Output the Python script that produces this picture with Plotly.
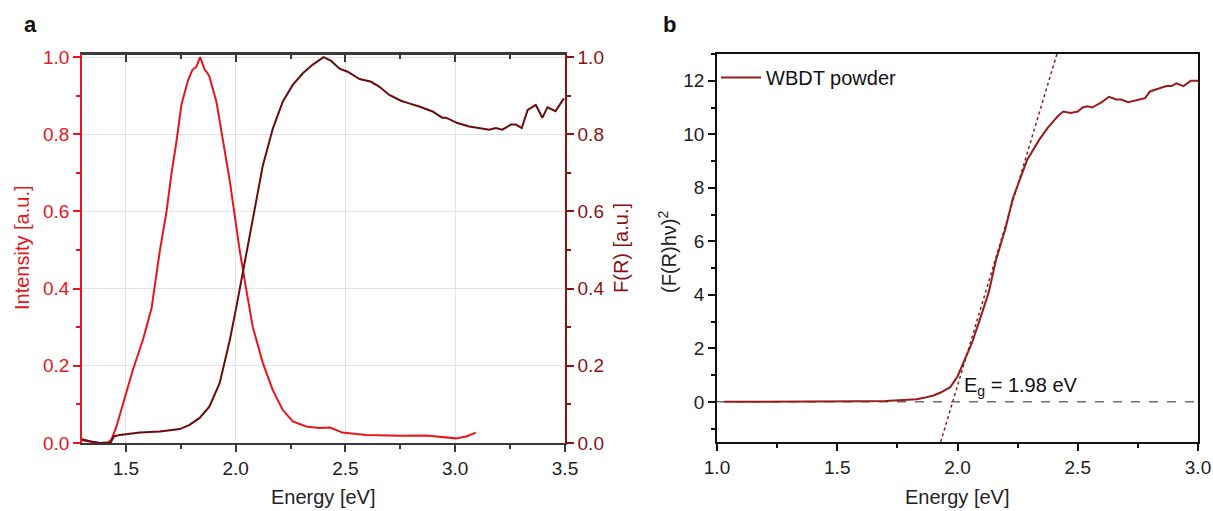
import plotly.graph_objects as go

W, H = 1213, 511

# ---------------- Panel a data ----------------
pl_energy = [1.30, 1.34, 1.38, 1.42, 1.435, 1.457, 1.495, 1.532, 1.579, 1.617, 1.655, 1.685,
             1.708, 1.73, 1.753, 1.783, 1.803, 1.821, 1.838, 1.859, 1.87, 1.88, 1.912, 1.942,
             1.973, 2.003, 2.018, 2.049, 2.078, 2.124, 2.169, 2.214, 2.26, 2.321, 2.38, 2.43,
             2.486, 2.594, 2.745, 2.867, 2.94, 3.003, 3.05, 3.094]
pl_intensity = [0.007, 0.003, 0.0, 0.002, 0.01, 0.043, 0.12, 0.19, 0.27, 0.35, 0.50, 0.60,
                0.70, 0.78, 0.877, 0.94, 0.967, 0.975, 1.0, 0.967, 0.96, 0.95, 0.885, 0.78,
                0.68, 0.56, 0.50, 0.395, 0.30, 0.207, 0.137, 0.086, 0.056, 0.043, 0.039, 0.040,
                0.027, 0.021, 0.019, 0.0195, 0.015, 0.012, 0.017, 0.027]

fr_energy = [1.30, 1.34, 1.38, 1.43, 1.445, 1.473, 1.564, 1.655, 1.745, 1.79, 1.836, 1.88,
             1.927, 1.973, 2.003, 2.034, 2.056, 2.078, 2.10, 2.124, 2.17, 2.215, 2.26, 2.306,
             2.35, 2.382, 2.40, 2.435, 2.473, 2.51, 2.564, 2.617, 2.655, 2.70, 2.753, 2.79,
             2.836, 2.897, 2.94, 2.958, 3.01, 3.064, 3.124, 3.155, 3.185, 3.215, 3.253, 3.276,
             3.303, 3.33, 3.367, 3.397, 3.42, 3.457, 3.495]
fr_value = [0.01, 0.004, 0.0, 0.0, 0.017, 0.021, 0.027, 0.03, 0.036, 0.047, 0.065, 0.094,
            0.155, 0.266, 0.352, 0.447, 0.51, 0.585, 0.655, 0.72, 0.816, 0.885, 0.928, 0.958,
            0.98, 0.992, 1.0, 0.99, 0.97, 0.962, 0.943, 0.936, 0.923, 0.902, 0.887, 0.88,
            0.872, 0.859, 0.843, 0.843, 0.829, 0.82, 0.816, 0.812, 0.816, 0.812, 0.825, 0.825,
            0.816, 0.863, 0.876, 0.843, 0.87, 0.86, 0.893]

# ---------------- Panel b data ----------------
b_energy = [1.03, 1.2, 1.4, 1.6, 1.7, 1.76, 1.8, 1.83, 1.86, 1.9, 1.93, 1.97, 2.0, 2.025,
            2.06, 2.09, 2.13, 2.16, 2.2, 2.23, 2.26, 2.29, 2.34, 2.375, 2.40, 2.42, 2.44,
            2.47, 2.50, 2.52, 2.54, 2.56, 2.60, 2.63, 2.66, 2.68, 2.71, 2.75, 2.78, 2.80,
            2.83, 2.85, 2.87, 2.89, 2.91, 2.94, 2.97, 3.0]
b_value = [0.0, 0.0, 0.01, 0.02, 0.03, 0.05, 0.07, 0.1, 0.15, 0.24, 0.35, 0.55, 0.95, 1.5,
           2.2, 3.0, 4.1, 5.3, 6.5, 7.6, 8.3, 9.05, 9.8, 10.24, 10.5, 10.7, 10.85,
           10.8, 10.85, 11.0, 11.05, 11.0, 11.2, 11.4, 11.3, 11.3, 11.2, 11.3, 11.35, 11.6,
           11.7, 11.75, 11.8, 11.8, 11.9, 11.8, 12.0, 12.0]
band_gap = 1.98          # eV, from the linear fit
fit_slope = 30.0         # slope of the tangent line
fit_y = [-1.5, 13.0]     # y extent of the tangent line
zero_x = [1.0, 3.0]
zero_y = [0.0, 0.0]
fit_x = [band_gap + yy / fit_slope for yy in fit_y]

RED = "#e8151c"
DARKRED = "#8b1212"
FRLINE = "#6b0c0c"
BLINE = "#981b1b"
GRAY = "#3a3a3a"
FONT = "Arial, Liberation Sans, sans-serif"
TF = 19   # tick font
LF = 20   # label font


def px(x):
    return x / W


def py(y):
    return 1 - y / H


fig = go.Figure()
# helper trace so the top (inward-tick) axis of panel a is drawn
fig.add_trace(go.Scatter(x=pl_energy, y=pl_intensity, mode="lines",
                         line=dict(color="rgba(0,0,0,0)", width=0), xaxis="x3", yaxis="y",
                         showlegend=False, hoverinfo="skip", name="top axis"))
fig.add_trace(go.Scatter(x=pl_energy, y=pl_intensity, mode="lines",
                         line=dict(color=RED, width=2), xaxis="x", yaxis="y",
                         showlegend=False, name="Intensity"))
fig.add_trace(go.Scatter(x=fr_energy, y=fr_value, mode="lines",
                         line=dict(color=FRLINE, width=2), xaxis="x", yaxis="y2",
                         showlegend=False, name="F(R)"))
fig.add_trace(go.Scatter(x=zero_x, y=zero_y, mode="lines",
                         line=dict(color="#6e6e6e", width=1.5, dash="dash"),
                         xaxis="x2", yaxis="y3", showlegend=False, name="zero"))
fig.add_trace(go.Scatter(x=fit_x, y=fit_y, mode="lines",
                         line=dict(color="#8b1a2e", width=1.5, dash="dot"),
                         xaxis="x2", yaxis="y3", showlegend=False, name="fit"))
fig.add_trace(go.Scatter(x=b_energy, y=b_value, mode="lines",
                         line=dict(color=BLINE, width=2), xaxis="x2", yaxis="y3",
                         showlegend=True, name="WBDT powder"))

a_dom_x = [px(82), px(565)]
a_dom_y = [py(443), py(54)]
b_dom_x = [px(717), px(1198)]
b_dom_y = [py(442), py(54)]

tickfont_dark = dict(family=FONT, size=TF, color="#222222")

fig.update_layout(
    width=W, height=H,
    margin=dict(l=0, r=0, t=0, b=0, autoexpand=False),
    paper_bgcolor="white", plot_bgcolor="white",
    font=dict(family=FONT, size=TF, color="#222222"),
    xaxis=dict(domain=a_dom_x, anchor="y", range=[1.3, 3.5], dtick=0.5, tick0=0,
               tickformat=".1f", ticks="outside", ticklen=7, tickwidth=1.5, tickcolor=GRAY,
               showline=True, linecolor=GRAY, linewidth=1.5, automargin=False, mirror=True,
               showgrid=True, gridcolor="#e3e3e3", gridwidth=1, zeroline=False,
               tickfont=tickfont_dark,
               minor=dict(dtick=0.25, tick0=0, ticks="outside", ticklen=4, tickwidth=1.5,
                          tickcolor=GRAY, showgrid=False)),
    xaxis3=dict(overlaying="x", anchor="free", position=a_dom_y[1], side="top",
                range=[1.3, 3.5], dtick=0.5, tick0=0,
                ticks="inside", ticklen=7, tickwidth=1.5, tickcolor=GRAY, automargin=False,
                showline=True, linecolor=GRAY, linewidth=1.5, showticklabels=False,
                showgrid=False, zeroline=False,
                minor=dict(dtick=0.25, tick0=0, ticks="inside", ticklen=4, tickwidth=1.5,
                           tickcolor=GRAY, showgrid=False)),
    yaxis=dict(domain=a_dom_y, anchor="x", range=[0, 1.008], dtick=0.2, tick0=0,
               tickformat=".1f", ticks="outside", ticklen=7, tickwidth=1.5, tickcolor=RED,
               showline=True, linecolor=RED, linewidth=1.5, automargin=False,
               showgrid=True, gridcolor="#e3e3e3", gridwidth=1, zeroline=False,
               tickfont=dict(family=FONT, size=TF, color=RED),
               minor=dict(dtick=0.1, tick0=0, ticks="outside", ticklen=4, tickwidth=1.5,
                          tickcolor=RED, showgrid=False)),
    yaxis2=dict(overlaying="y", anchor="x", side="right", range=[0, 1.008], dtick=0.2, tick0=0,
                tickformat=".1f", ticks="outside", ticklen=7, tickwidth=1.5, tickcolor=DARKRED,
                showline=True, linecolor=DARKRED, linewidth=1.5, automargin=False,
                showgrid=False, zeroline=False,
                tickfont=dict(family=FONT, size=TF, color=DARKRED),
                minor=dict(dtick=0.1, tick0=0, ticks="outside", ticklen=4, tickwidth=1.5,
                           tickcolor=DARKRED, showgrid=False)),
    xaxis2=dict(domain=b_dom_x, anchor="y3", range=[1.0, 3.0], dtick=0.5, tick0=0,
                tickformat=".1f", ticks="outside", ticklen=7, tickwidth=1.5, tickcolor="#111111",
                showline=True, linecolor="#111111", linewidth=1.5, mirror=True, automargin=False,
                showgrid=False, zeroline=False, tickfont=tickfont_dark,
                minor=dict(dtick=0.25, tick0=0, ticks="outside", ticklen=4, tickwidth=1.5,
                           tickcolor="#111111", showgrid=False)),
    yaxis3=dict(domain=b_dom_y, anchor="x2", range=[-1.5, 13.0], dtick=2, tick0=0,
                ticks="outside", ticklen=7, tickwidth=1.5, tickcolor="#111111",
                showline=True, linecolor="#111111", linewidth=1.5, mirror=True, automargin=False,
                showgrid=False, zeroline=False, tickfont=tickfont_dark,
                minor=dict(dtick=1, tick0=0, ticks="outside", ticklen=4, tickwidth=1.5,
                           tickcolor="#111111", showgrid=False)),
    legend=dict(x=px(716), y=py(58), xanchor="left", yanchor="top",
                bgcolor="rgba(0,0,0,0)", font=dict(family=FONT, size=LF, color="#111111"),
                itemwidth=40, tracegroupgap=0),
    showlegend=True,
)

ann = [
    dict(text="<b>a</b>", x=px(30), y=py(25), font=dict(size=22, color="#111111")),
    dict(text="<b>b</b>", x=px(669), y=py(25), font=dict(size=22, color="#111111")),
    dict(text="Energy [eV]", x=px(323), y=py(497), font=dict(size=LF, color="#222222")),
    dict(text="Energy [eV]", x=px(957), y=py(497), font=dict(size=LF, color="#222222")),
    dict(text="Intensity [a.u.]", x=px(22), y=py(248), textangle=-90,
         font=dict(size=LF, color=RED)),
    dict(text="F(R) [a.u.]", x=px(621), y=py(248), textangle=-90,
         font=dict(size=LF, color=DARKRED)),
    dict(text="(F(R)hν)<sup>2</sup>", x=px(667), y=py(252), textangle=-90,
         font=dict(size=LF, color="#222222")),
    dict(text="E<sub>g</sub> = %.2f eV" % band_gap, x=px(962), y=py(386), xanchor="left",
         font=dict(size=LF, color="#111111")),
]
for a in ann:
    a.setdefault("xanchor", "center")
    a.update(xref="paper", yref="paper", yanchor="middle", showarrow=False)
    a["font"]["family"] = FONT
fig.update_layout(annotations=ann)

fig.write_html("out.html")
